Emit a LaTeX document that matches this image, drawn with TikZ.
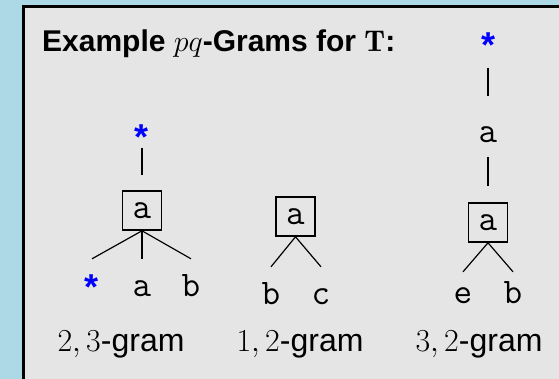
\RequirePackage{fix-cm}
\documentclass[tikz,border=0pt]{standalone}
\usepackage{fontspec}
\newfontfamily\labsans{Liberation Sans}
\usetikzlibrary{positioning}
\definecolor{PanelBlue}{RGB}{173,216,230}
\definecolor{PanelGray}{RGB}{229,229,229}
\definecolor{StarBlue}{RGB}{0,0,255}
\tikzset{
  gramroot/.style={draw, line width=1.6pt, minimum size=39pt, inner sep=0pt,
    font=\fontsize{36}{36}\selectfont\ttfamily},
  gramlab/.style={anchor=base, inner sep=0pt, text height=37pt, text depth=0pt,
    font=\fontsize{36}{36}\selectfont\ttfamily},
  gramstar/.style={anchor=base, inner sep=0pt, text height=0pt, text depth=0pt,
    text=StarBlue, font=\fontsize{36}{36}\selectfont\labsans\bfseries},
  gramedge/.style={line width=1.2pt},
  gramname/.style={anchor=base, inner sep=0pt, font=\fontsize{32}{32}\selectfont\labsans},
}

\begin{document}
\begin{tikzpicture}[x=1pt,y=-1pt]
  \useasboundingbox (0,0) rectangle (559,379);
  \clip (0,0) rectangle (559,379);
  \fill[PanelBlue] (0,0) rectangle (559,379);
  \filldraw[fill=PanelGray, draw=black, line width=3pt] (23.8,6.6) rectangle (620,440);

  \node[anchor=base west, inner sep=0pt, font=\fontsize{30}{30}\selectfont\labsans\bfseries]
    (title) at (42,52) {Example $pq$-Grams for $\mathbf{T}$:};

  % 2,3-gram
  \node[gramstar] (s1) at (142,149.3) {*};
  \node[gramroot] (r1) at (142,210.5) {a};
  \node[gramstar, text height=40.3pt] (c1a) at (92,299.3) {*};
  \node[gramlab] (c1b) at (142,296) {a};
  \node[gramlab] (c1c) at (191,296) {b};
  \draw[gramedge, shorten <=-2.3pt, shorten >=15pt] (s1) -- (r1.north);
  \foreach \c in {c1a,c1b,c1c}
    \draw[gramedge] (r1.south) -- (\c.north);
  \node[gramname] (g1) at (121,351) {$2,3$-gram};

  % 1,2-gram
  \node[gramroot] (r2) at (295.5,216.5) {a};
  \node[gramlab] (c2a) at (271,304) {b};
  \node[gramlab] (c2b) at (321,304) {c};
  \foreach \c in {c2a,c2b}
    \draw[gramedge] (r2.south) -- (\c.north);
  \node[gramname] (g2) at (300,351) {$1,2$-gram};

  % 3,2-gram
  \node[gramstar] (s3) at (488,57.3) {*};
  \node[gramlab, text height=47pt, text depth=14pt] (m3) at (488,143) {a};
  \node[gramroot] (r3) at (488,222.5) {a};
  \node[gramlab, text height=31pt] (c3a) at (463,303) {e};
  \node[gramlab, text height=31pt] (c3b) at (513,303) {b};
  \draw[gramedge, shorten <=9.7pt] (s3) -- (m3.north);
  \draw[gramedge, shorten >=16pt] (m3.south) -- (r3.north);
  \foreach \c in {c3a,c3b}
    \draw[gramedge] (r3.south) -- (\c.north);
  \node[gramname] (g3) at (479,351) {$3,2$-gram};
\end{tikzpicture}
\end{document}
